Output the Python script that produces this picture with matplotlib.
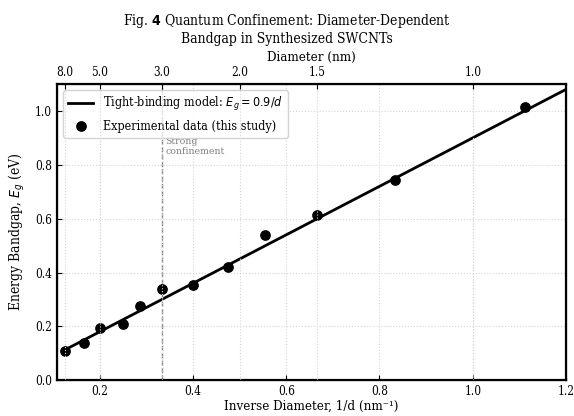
import matplotlib
matplotlib.use("Agg")
import matplotlib.pyplot as plt
import numpy as np

# experimental data (1/d in nm^-1, Eg in eV)
inv_d = [1/8.0, 1/6.0, 1/5.0, 1/4.0, 1/3.5, 1/3.0, 1/2.5, 1/2.1, 1/1.8, 1/1.5, 1/1.2, 1/0.9]
eg = [0.11, 0.14, 0.195, 0.21, 0.275, 0.34, 0.355, 0.42, 0.54, 0.615, 0.745, 1.015]

# model line
model_coef = 0.9
model_x = [0.125, 1.2]

# top axis diameters
top_diams = [8.0, 5.0, 3.0, 2.0, 1.5, 1.0]

plt.rcParams['font.family'] = ['DejaVu Serif']
plt.rcParams['font.stretch'] = 'condensed'

fig = plt.figure(figsize=(5.74, 4.16), dpi=100)
ax = fig.add_axes([0.099, 0.086, 0.887, 0.712])

xm = np.array(model_x)
ax.plot(xm, model_coef * xm, color='black', lw=2,
        label=r'Tight-binding model: $E_g = 0.9/d$')
ax.scatter(inv_d, eg, s=45, color='black', zorder=3,
           label='Experimental data (this study)')

ax.axvline(1/3, color='gray', ls='--', lw=1)
ax.text(1/3 + 0.008, 0.905, 'Strong\nconfinement', color='gray',
        fontsize=7.5, va='top', ha='left')

ax.set_xlim(0.108, 1.2)
ax.set_ylim(0, 1.1)
ax.set_xticks([0.2, 0.4, 0.6, 0.8, 1.0, 1.2])
ax.set_yticks([0.0, 0.2, 0.4, 0.6, 0.8, 1.0])
ax.tick_params(direction='in', labelsize=8.5)
ax.grid(True, axis='y', ls=':', color='#d5d5d5', lw=0.8)
ax.set_xlabel('Inverse Diameter, 1/d (nm\u207b\u00b9)', fontsize=9.5, labelpad=1)
ax.set_ylabel(r'Energy Bandgap, $E_g$ (eV)', fontsize=10, labelpad=6)
for s in ax.spines.values():
    s.set_linewidth(1.6)

ax2 = ax.twiny()
ax2.set_xlim(ax.get_xlim())
ax2.set_xticks([1/d for d in top_diams])
ax2.set_xticklabels([f'{d:.1f}' for d in top_diams])
ax2.tick_params(direction='in', labelsize=8.5)
ax2.set_xlabel('Diameter (nm)', fontsize=9.5, labelpad=4)
ax2.grid(True, ls=':', color='#d5d5d5', lw=0.8)
ax.grid(True, axis='x', ls=':', color='#d5d5d5', lw=0.8)

leg = ax.legend(loc='upper left', fontsize=9, framealpha=0.85)
leg.set_zorder(5)

fig.suptitle('Fig. $\\mathbf{4}$ Quantum Confinement: Diameter-Dependent\n'
             'Bandgap in Synthesized SWCNTs', fontsize=10, y=0.972)

fig.savefig('out.png', dpi=100)
